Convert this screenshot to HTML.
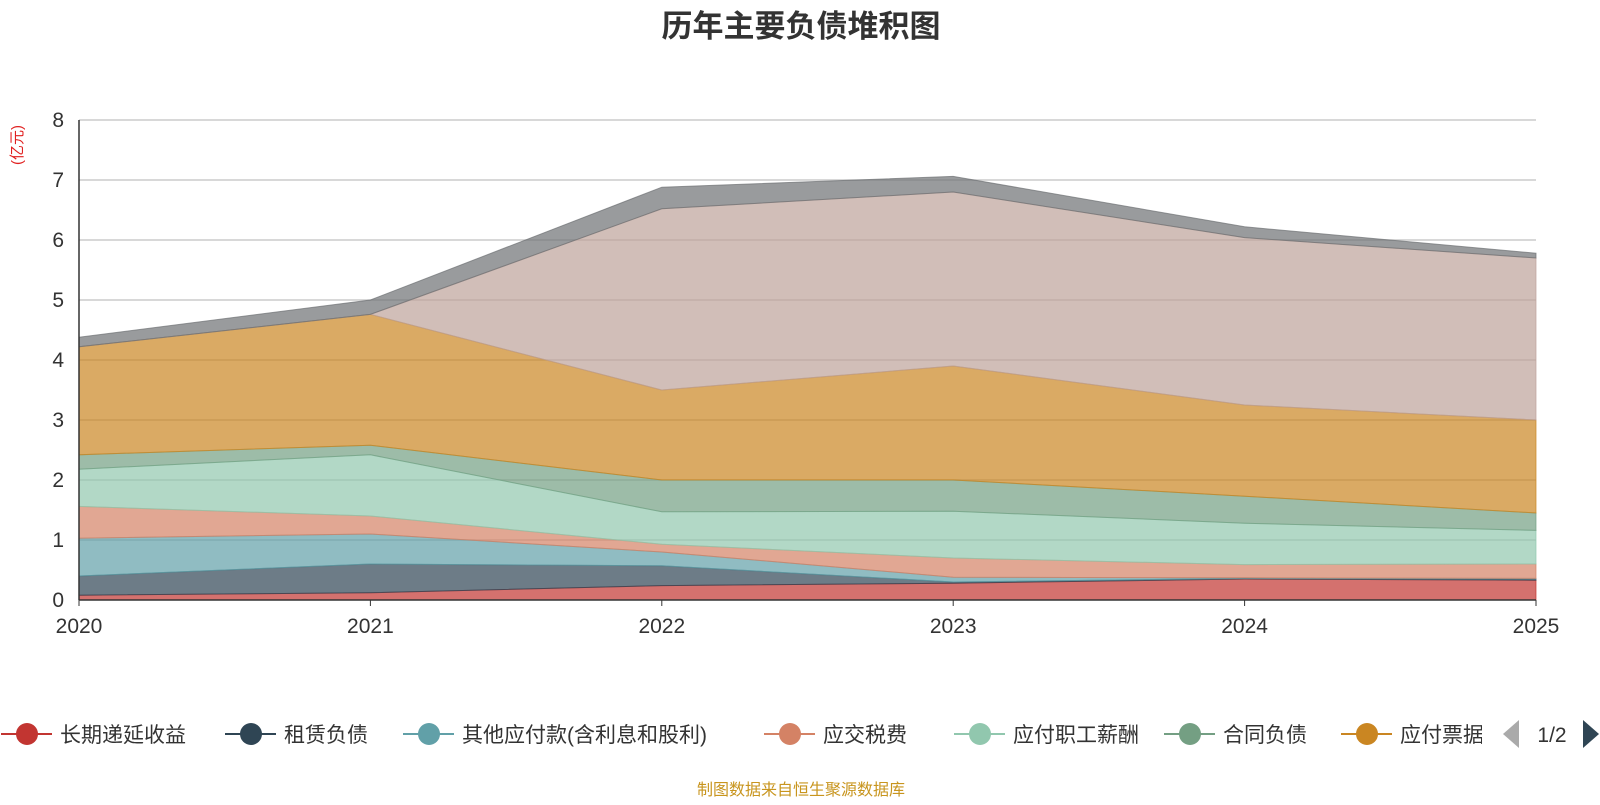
<!DOCTYPE html>
<html><head><meta charset="utf-8"><style>
body{margin:0;background:#fff;font-family:"Liberation Sans","Noto Sans CJK SC",sans-serif;}
</style></head><body>
<svg width="1600" height="800" xmlns="http://www.w3.org/2000/svg" font-family="Liberation Sans, Noto Sans CJK SC, sans-serif">
<text x="801" y="37" text-anchor="middle" font-size="31" font-weight="bold" fill="#333">历年主要负债堆积图</text>
<text transform="translate(22,145) rotate(-90)" text-anchor="middle" font-size="15" fill="#e02020">(亿元)</text>
<g id="grid"></g><g id="areas"></g><g id="axes"></g>
<g id="legend"></g>
<text x="801" y="795" text-anchor="middle" font-size="16" fill="#c8951e">制图数据来自恒生聚源数据库</text>
</svg>
<script>
const years=["2020","2021","2022","2023","2024","2025"];
const names=["长期递延收益","租赁负债","其他应付款(含利息和股利)","应交税费","应付职工薪酬","合同负债","应付票据","应付账款","其他"];
const colors=["#c23531","#2f4554","#61a0a8","#d48265","#91c7ae","#749f83","#ca8622","#bda29a","#6e7074"];
const s1=[0.08,0.12,0.24,0.28,0.35,0.33];
const s2=[0.32,0.48,0.33,0.02,0.01,0.02];
const s3=[0.63,0.5,0.23,0.08,0.01,0.01];
const s4=[0.53,0.3,0.13,0.32,0.22,0.24];
const s5=[0.62,1.02,0.54,0.78,0.69,0.56];
const s6=[0.24,0.16,0.53,0.52,0.45,0.29];
const s7=[1.8,2.18,1.5,1.9,1.52,1.55];
const s8=[0,0,3.02,2.9,2.79,2.7];
const s9=[0.16,0.24,0.36,0.26,0.18,0.08];
const yTicks=[0,1,2,3,4,5,6,7,8];
const series=[s1,s2,s3,s4,s5,s6,s7,s8,s9];
const NS="http://www.w3.org/2000/svg";
const X0=79,X1=1536,Y0=600,YT=120;
const xs=i=>X0+(X1-X0)*i/(years.length-1);
const ys=v=>Y0-(Y0-YT)*v/8;
function mk(t,a,p){const e=document.createElementNS(NS,t);for(const k in a)e.setAttribute(k,a[k]);p.appendChild(e);return e;}
const grid=document.getElementById('grid'),areas=document.getElementById('areas'),axes=document.getElementById('axes'),leg=document.getElementById('legend');
yTicks.forEach(t=>{
 if(t>0){const l=mk('line',{x1:X0,x2:X1,y1:ys(t),y2:ys(t),stroke:'#ccc','stroke-width':1.5},grid);
 
 }
 const tx=mk('text',{x:64,y:ys(t)+7,'text-anchor':'end','font-size':21,fill:'#333'},axes);tx.textContent=t;
 
 
});
let base=years.map(()=>0);
series.forEach((s,k)=>{
 const top=base.map((b,i)=>b+s[i]);
 let d='M'+top.map((v,i)=>xs(i)+','+ys(v)).join('L');
 for(let i=years.length-1;i>=0;i--)d+='L'+xs(i)+','+ys(base[i]);
 d+='Z';
 const p=mk('path',{d:d,fill:colors[k],'fill-opacity':0.7,stroke:colors[k],'stroke-opacity':0.7,'stroke-width':1},areas);
 
 
 base=top;
});
mk('line',{x1:X0,x2:X0,y1:YT,y2:Y0,stroke:'#333','stroke-width':1.5},axes);
mk('line',{x1:X0,x2:X1,y1:Y0,y2:Y0,stroke:'#333','stroke-width':1.5},axes);
years.forEach((y,i)=>{
 mk('line',{x1:xs(i),x2:xs(i),y1:Y0,y2:Y0+6,stroke:'#333'},axes);
 const t=mk('text',{x:xs(i),y:Y0+33,'text-anchor':'middle','font-size':21,fill:'#333'},axes);t.textContent=y;
 
 
});
const lx=[27,251,429,790,980,1190,1367];
lx.forEach((cx,k)=>{
 const g=mk('g',{},leg);
 
 
 mk('line',{x1:cx-26,x2:cx+25,y1:734,y2:734,stroke:colors[k],'stroke-width':2},g);
 mk('circle',{cx:cx,cy:734,r:11,fill:colors[k]},g);
 const t=mk('text',{x:cx+33,y:742,'font-size':21,fill:'#333'},g);t.textContent=names[k];
});
mk('rect',{x:1482,y:710,width:118,height:50,fill:'#fff'},leg);
const a1=mk('path',{d:'M1519,720L1503,734L1519,748Z',fill:'#aaa'},leg);


const pt=mk('text',{x:1552,y:742,'text-anchor':'middle','font-size':21,fill:'#333'},leg);pt.textContent='1/2';


const a2=mk('path',{d:'M1583,720L1599,734L1583,748Z',fill:'#2f4554'},leg);


</script>
</body></html>
